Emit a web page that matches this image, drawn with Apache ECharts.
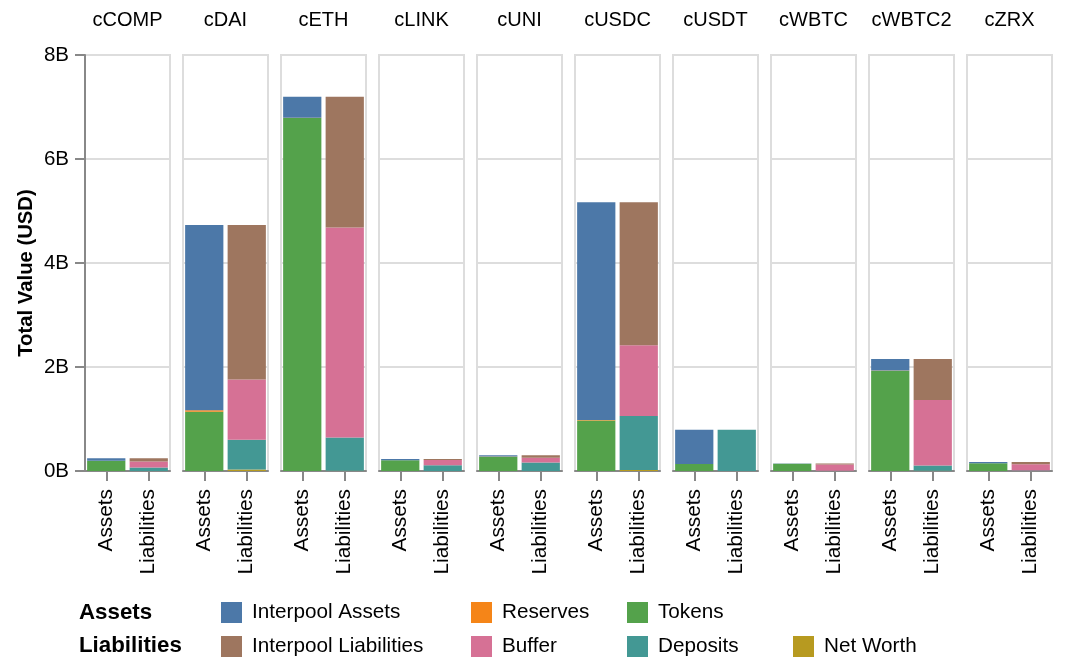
<!DOCTYPE html>
<html>
<head>
<meta charset="utf-8">
<script src="https://cdn.jsdelivr.net/npm/echarts@6/dist/echarts.min.js"></script>
<style>
  html, body { margin: 0; padding: 0; background: #fff; }
  #chart { width: 1083px; height: 667px; }
</style>
</head>
<body>
<div id="chart"></div>
<script>
// ---- data (values in billions USD) ----
const facets = ['cCOMP','cDAI','cETH','cLINK','cUNI','cUSDC','cUSDT','cWBTC','cWBTC2','cZRX'];
const sides = ['Assets','Liabilities'];
const yTicks = [0, 2, 4, 6, 8];

// Assets components (bottom to top)
const tokens          = [0.195, 1.14, 6.79, 0.205, 0.275, 0.97, 0.135, 0.14, 1.93, 0.15];
const reserves        = [0.002, 0.03, 0.005, 0.001, 0.002, 0.01, 0.001, 0.001, 0.005, 0.001];
const interpoolAssets = [0.05, 3.56, 0.40, 0.025, 0.025, 4.19, 0.655, 0.005, 0.22, 0.02];

// Liabilities components (bottom to top)
const netWorth        = [0.002, 0.03, 0.005, 0.001, 0.002, 0.02, 0.001, 0.001, 0.005, 0.001];
const deposits        = [0.065, 0.57, 0.64, 0.11, 0.16, 1.04, 0.79, 0.002, 0.10, 0.01];
const buffer          = [0.115, 1.16, 4.04, 0.10, 0.095, 1.36, 0.0, 0.122, 1.26, 0.12];
const interpoolLiab   = [0.065, 2.97, 2.51, 0.02, 0.045, 2.75, 0.0, 0.02, 0.79, 0.04];

// ---- styling ----
const FONT = 'Liberation Sans, Arial, Helvetica, sans-serif';
const colors = {
  'Interpool Assets': '#4c78a8',
  'Reserves': '#f58518',
  'Tokens': '#54a24b',
  'Interpool Liabilities': '#9e765f',
  'Buffer': '#d67195',
  'Deposits': '#439894',
  'Net Worth': '#b79a20'
};
const seriesDefs = [
  { name: 'Tokens', side: 0, data: tokens },
  { name: 'Reserves', side: 0, data: reserves },
  { name: 'Interpool Assets', side: 0, data: interpoolAssets },
  { name: 'Net Worth', side: 1, data: netWorth },
  { name: 'Deposits', side: 1, data: deposits },
  { name: 'Buffer', side: 1, data: buffer },
  { name: 'Interpool Liabilities', side: 1, data: interpoolLiab }
];

const PANEL_LEFT = 85, PANEL_STEP = 98, PANEL_W = 85, PANEL_TOP = 55, PANEL_H = 416;

const grids = [], xAxes = [], yAxes = [], series = [], graphics = [];
facets.forEach((f, i) => {
  const left = PANEL_LEFT + PANEL_STEP * i;
  grids.push({ left: left, top: PANEL_TOP, width: PANEL_W, height: PANEL_H,
    show: true, borderColor: '#dddddd', borderWidth: 2, backgroundColor: 'transparent', containLabel: false });
  xAxes.push({
    type: 'category', gridIndex: i, data: sides,
    axisLine: { show: true, lineStyle: { color: '#888', width: 2 } },
    axisTick: { show: true, alignWithLabel: true, length: 10, lineStyle: { color: '#888', width: 2 } },
    axisLabel: { rotate: 90, color: '#000', fontSize: 20.8, fontFamily: FONT, margin: 18 }
  });
  yAxes.push({
    type: 'value', gridIndex: i, min: 0, max: 8, interval: 2,
    axisLine: { show: i === 0, lineStyle: { color: '#888', width: 2 } },
    axisTick: { show: i === 0, length: 10, lineStyle: { color: '#888', width: 2 } },
    axisLabel: { show: i === 0, color: '#000', fontSize: 20.5, fontFamily: FONT, margin: 16,
      formatter: v => (yTicks.indexOf(v) >= 0 ? v + 'B' : '') },
    splitLine: { show: true, lineStyle: { color: '#dddddd', width: 2 } }
  });
  seriesDefs.forEach(sd => {
    const d = [null, null];
    d[sd.side] = sd.data[i];
    series.push({
      type: 'bar', name: sd.name, xAxisIndex: i, yAxisIndex: i,
      stack: 'facet' + i, data: d, barCategoryGap: '10%',
      itemStyle: { color: colors[sd.name] },
      emphasis: { disabled: true }
    });
  });
  graphics.push({
    type: 'text', x: left + PANEL_W / 2, y: 20,
    style: { text: f, textAlign: 'center', textVerticalAlign: 'middle',
      font: '20px ' + FONT, fill: '#000' }
  });
});

// y axis title
graphics.push({ type: 'text', x: 26, y: 273, rotation: Math.PI / 2,
  style: { text: 'Total Value (USD)', textAlign: 'center', textVerticalAlign: 'middle',
    font: 'bold 20.3px ' + FONT, fill: '#000' } });

// legend titles
graphics.push({ type: 'text', x: 79, y: 613,
  style: { text: 'Assets', textVerticalAlign: 'middle', font: 'bold 22.3px ' + FONT, fill: '#000' } });
graphics.push({ type: 'text', x: 79, y: 646,
  style: { text: 'Liabilities', textVerticalAlign: 'middle', font: 'bold 22.3px ' + FONT, fill: '#000' } });

const legendPos = [
  { name: 'Interpool Assets', left: 221, top: 602 },
  { name: 'Reserves', left: 471, top: 602 },
  { name: 'Tokens', left: 627, top: 602 },
  { name: 'Interpool Liabilities', left: 221, top: 636 },
  { name: 'Buffer', left: 471, top: 636 },
  { name: 'Deposits', left: 627, top: 636 },
  { name: 'Net Worth', left: 793, top: 636 }
];
const legends = legendPos.map(lp => ({
  data: [lp.name], left: lp.left, top: lp.top, padding: 0,
  icon: 'rect', itemWidth: 21, itemHeight: 21, itemGap: 0,
  selectedMode: false,
  textStyle: { fontSize: 20.7, color: '#000', fontFamily: FONT, padding: [0, 0, 0, 5], lineHeight: 21 }
}));

const chart = echarts.init(document.getElementById('chart'), null, { renderer: 'canvas' });
chart.setOption({
  animation: false,
  backgroundColor: '#fff',
  textStyle: { fontFamily: FONT },
  grid: grids, xAxis: xAxes, yAxis: yAxes, series: series,
  legend: legends, graphic: graphics,
  tooltip: { show: false }
});
</script>
</body>
</html>
